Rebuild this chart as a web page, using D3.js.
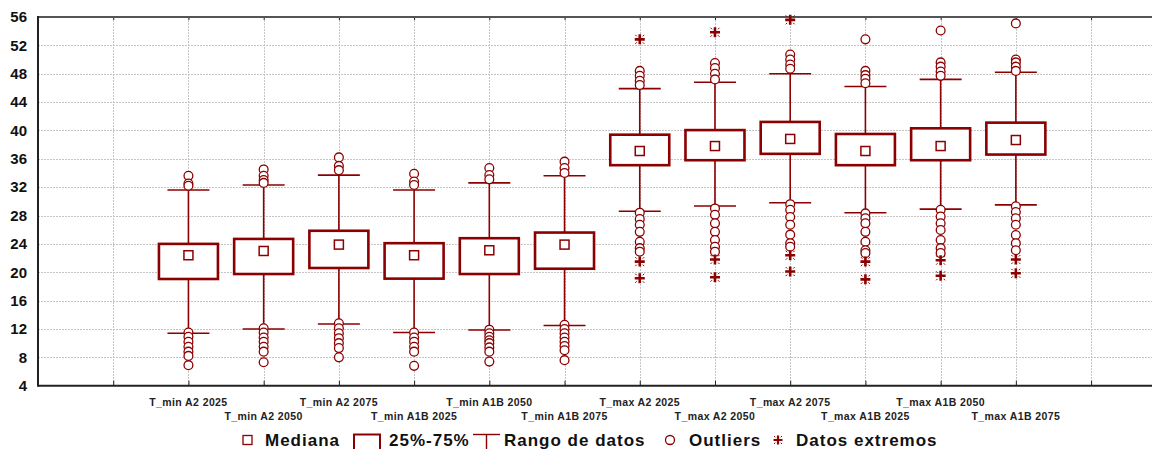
<!DOCTYPE html>
<html>
<head>
<meta charset="utf-8">
<script src="https://cdn.jsdelivr.net/npm/d3@7"></script>
<style>
  html, body { margin: 0; padding: 0; background: #fff; }
  svg { display: block; font-family: "Liberation Sans", Arial, sans-serif; }
</style>
</head>
<body>
<svg id="chart" width="1154" height="449"></svg>
<script>
// Temperature distributions per variable / scenario / horizon
const categories = [
  "T_min A2 2025", "T_min A2 2050", "T_min A2 2075",
  "T_min A1B 2025", "T_min A1B 2050", "T_min A1B 2075",
  "T_max A2 2025", "T_max A2 2050", "T_max A2 2075",
  "T_max A1B 2025", "T_max A1B 2050", "T_max A1B 2075"
];
const medians  = [22.4, 23.0, 23.9, 22.4, 23.1, 23.9, 37.1, 37.8, 38.8, 37.1, 37.8, 38.65];
const q1       = [19.05, 19.75, 20.6, 19.1, 19.75, 20.5, 35.1, 35.8, 36.7, 35.1, 35.8, 36.6];
const q3       = [24.0, 24.7, 25.85, 24.1, 24.8, 25.6, 39.4, 40.05, 41.2, 39.5, 40.3, 41.1];
const whiskerLow  = [11.4, 12.0, 12.7, 11.5, 11.85, 12.5, 28.6, 29.35, 29.8, 28.4, 28.9, 29.5];
const whiskerHigh = [31.6, 32.3, 33.7, 31.6, 32.6, 33.6, 45.9, 46.8, 48.0, 46.2, 47.2, 48.2];
const outliers = [
  [33.6, 32.5, 32.2, 11.5, 10.9, 10.2, 9.5, 8.8, 8.2, 6.9],
  [34.5, 33.6, 33.0, 32.6, 12.1, 11.5, 10.8, 10.2, 9.5, 8.8, 7.3],
  [36.2, 35.0, 34.4, 12.8, 12.1, 11.4, 10.7, 10.0, 9.3, 8.0],
  [33.9, 32.8, 32.3, 11.5, 10.8, 10.2, 9.5, 8.8, 6.8],
  [34.7, 33.7, 33.1, 11.9, 11.4, 10.9, 10.4, 10.0, 9.4, 8.8, 7.4],
  [35.6, 34.7, 34.0, 12.6, 12.0, 11.4, 10.8, 10.2, 9.6, 9.0, 7.6],
  [48.4, 47.7, 47.0, 46.4, 28.4, 27.5, 26.7, 25.7, 24.3, 23.4, 22.9],
  [49.5, 48.8, 48.0, 47.2, 29.0, 28.1, 26.9, 25.7, 24.55, 23.6, 22.9],
  [50.7, 50.0, 49.3, 48.7, 29.6, 28.8, 27.8, 26.7, 25.3, 24.1, 23.6],
  [52.85, 48.4, 47.8, 47.3, 46.65, 28.3, 27.6, 26.9, 25.7, 24.3, 23.1, 22.7],
  [54.1, 49.6, 49.0, 48.3, 47.7, 28.8, 27.85, 26.9, 25.96, 24.55, 23.4, 22.7],
  [55.1, 50.0, 49.6, 49.0, 48.4, 29.3, 28.5, 27.6, 26.7, 25.25, 24.1, 23.1]
];
const extremes = [
  [], [], [], [], [], [],
  [52.85, 21.5, 19.15],
  [53.85, 21.8, 19.3],
  [55.6, 22.4, 20.1],
  [21.5, 19.0],
  [21.7, 19.5],
  [21.8, 19.85]
];
const yTicks = [4, 8, 12, 16, 20, 24, 28, 32, 36, 40, 44, 48, 52, 56];
const legendLabels = ["Mediana", "25%-75%", "Rango de datos", "Outliers", "Datos extremos"];

const COLOR = "#8b0000";
const svg = d3.select("#chart");

const plot = { left: 38, right: 1152, top: 17, bottom: 385.7 };

// slot 0 is the left edge, slot 1 an empty leading position, categories fill slots 2..13
const slotCount = 14.81;
const x = d3.scaleLinear().domain([0, slotCount]).range([plot.left, plot.right]);
const y = d3.scaleLinear().domain([4, 56]).range([plot.bottom, plot.top]);
const slotOf = i => i + 2;
const slots = d3.range(1, 15);

// grid
const grid = svg.append("g").attr("stroke", "#c4c4c4").attr("stroke-width", 1)
  .attr("stroke-dasharray", "2,1").attr("fill", "none");
grid.selectAll("line.h").data(yTicks.filter(v => v > 4 && v < 56)).join("line")
  .attr("class", "h")
  .attr("x1", plot.left).attr("x2", plot.right)
  .attr("y1", d => Math.round(y(d)) + 0.5).attr("y2", d => Math.round(y(d)) + 0.5);
grid.selectAll("line.v").data(slots).join("line")
  .attr("class", "v")
  .attr("x1", d => Math.round(x(d)) + 0.5).attr("x2", d => Math.round(x(d)) + 0.5)
  .attr("y1", plot.top).attr("y2", plot.bottom);

// axes
const yAxis = d3.axisLeft(y).tickValues(yTicks).tickSize(0).tickPadding(11);
const gy = svg.append("g").attr("transform", `translate(${plot.left},0)`).call(yAxis);
gy.select(".domain").remove();
gy.selectAll("text").attr("font-size", 15).attr("font-weight", "bold").attr("fill", "#111")
  .attr("font-family", "Liberation Sans, Arial, sans-serif");

const xAxisBottom = d3.axisBottom(x).tickValues(slots).tickSize(-5).tickFormat("");
const gxb = svg.append("g").attr("transform", `translate(0,${plot.bottom})`).call(xAxisBottom);
gxb.select(".domain").remove();
gxb.selectAll(".tick line").attr("stroke", "#222").attr("stroke-width", 1);

const xAxisTop = d3.axisTop(x).tickValues(slots).tickSize(-3).tickFormat("");
const gxt = svg.append("g").attr("transform", `translate(0,${plot.top})`).call(xAxisTop);
gxt.select(".domain").remove();
gxt.selectAll(".tick line").attr("stroke", "#222").attr("stroke-width", 1);

svg.append("line").attr("x1", plot.left).attr("x2", plot.right)
  .attr("y1", plot.top).attr("y2", plot.top).attr("stroke", "#555").attr("stroke-width", 2);
svg.append("line").attr("x1", plot.left).attr("x2", plot.right)
  .attr("y1", plot.bottom).attr("y2", plot.bottom).attr("stroke", "#222").attr("stroke-width", 2);
svg.append("line").attr("x1", plot.left).attr("x2", plot.left)
  .attr("y1", plot.top - 1).attr("y2", plot.bottom + 1).attr("stroke", "#222").attr("stroke-width", 2);

// category labels, staggered in two rows
svg.append("g").selectAll("text").data(categories).join("text")
  .attr("x", (d, i) => x(slotOf(i)))
  .attr("y", (d, i) => i % 2 === 0 ? 406 : 420)
  .attr("text-anchor", "middle")
  .attr("font-size", 10.5).attr("font-weight", "bold").attr("fill", "#222")
  .attr("letter-spacing", 0.4)
  .text(d => d);

// boxes
const boxW = 59, capW = 42, medS = 9, rOut = 4.4;
const g = svg.append("g");
categories.forEach((c, i) => {
  const cx = x(slotOf(i));
  const grp = g.append("g");
  // whisker
  grp.append("line").attr("x1", cx).attr("x2", cx)
    .attr("y1", y(whiskerLow[i])).attr("y2", y(whiskerHigh[i]))
    .attr("stroke", COLOR).attr("stroke-width", 1.6);
  [whiskerLow[i], whiskerHigh[i]].forEach(v => {
    grp.append("line").attr("x1", cx - capW / 2).attr("x2", cx + capW / 2)
      .attr("y1", y(v)).attr("y2", y(v))
      .attr("stroke", COLOR).attr("stroke-width", 1.6);
  });
  // box
  grp.append("rect")
    .attr("x", cx - boxW / 2).attr("width", boxW)
    .attr("y", y(q3[i])).attr("height", y(q1[i]) - y(q3[i]))
    .attr("fill", "#fff").attr("stroke", COLOR).attr("stroke-width", 2.6);
  // median
  grp.append("rect")
    .attr("x", cx - medS / 2).attr("width", medS)
    .attr("y", y(medians[i]) - medS / 2).attr("height", medS)
    .attr("fill", "#fff").attr("stroke", COLOR).attr("stroke-width", 1.5);
  // outliers
  grp.selectAll("circle").data(outliers[i]).join("circle")
    .attr("cx", cx).attr("cy", d => y(d)).attr("r", rOut)
    .attr("fill", "#fff").attr("stroke", COLOR).attr("stroke-width", 1.3);
  // extremes
  grp.selectAll("g.ext").data(extremes[i]).join("g")
    .attr("class", "ext")
    .attr("transform", d => `translate(${cx},${y(d)})`)
    .call(sel => {
      sel.append("path").attr("d", "M-5,0H5M0,-5V5")
        .attr("stroke", COLOR).attr("stroke-width", 2.6).attr("fill", "none");
      sel.append("path").attr("d", "M-4.5,-4.5L-3,-3M4.5,-4.5L3,-3M-4.5,4.5L-3,3M4.5,4.5L3,3")
        .attr("stroke", COLOR).attr("stroke-width", 1).attr("fill", "none");
    });
});

// legend
const lg = svg.append("g").attr("font-size", 17).attr("font-weight", "bold").attr("fill", "#111");
const legY = 446;
const legText = (txt, xPos) => lg.append("text").attr("x", xPos).attr("y", legY)
  .attr("letter-spacing", 1).text(txt);

lg.append("rect").attr("x", 243).attr("y", 435.5).attr("width", 9).attr("height", 9)
  .attr("fill", "#fff").attr("stroke", COLOR).attr("stroke-width", 1.3);
legText(legendLabels[0], 265);
lg.append("rect").attr("x", 354).attr("y", 434.5).attr("width", 26).attr("height", 20)
  .attr("fill", "#fff").attr("stroke", COLOR).attr("stroke-width", 2);
legText(legendLabels[1], 389);
lg.append("line").attr("x1", 473).attr("x2", 500).attr("y1", 434.5).attr("y2", 434.5)
  .attr("stroke", COLOR).attr("stroke-width", 1.4);
lg.append("line").attr("x1", 486.5).attr("x2", 486.5).attr("y1", 434.5).attr("y2", 450)
  .attr("stroke", COLOR).attr("stroke-width", 1.4);
legText(legendLabels[2], 504);
lg.append("circle").attr("cx", 670).attr("cy", 440).attr("r", 4.5)
  .attr("fill", "#fff").attr("stroke", COLOR).attr("stroke-width", 1.3);
legText(legendLabels[3], 689);
const lgExt = lg.append("g").attr("transform", "translate(778,440)");
lgExt.append("path").attr("d", "M-4.5,0H4.5M0,-4.5V4.5")
  .attr("stroke", COLOR).attr("stroke-width", 2.2).attr("fill", "none");
lgExt.append("path").attr("d", "M-4,-4L-2.7,-2.7M4,-4L2.7,-2.7M-4,4L-2.7,2.7M4,4L2.7,2.7")
  .attr("stroke", COLOR).attr("stroke-width", 1).attr("fill", "none");
legText(legendLabels[4], 796);
</script>
</body>
</html>
